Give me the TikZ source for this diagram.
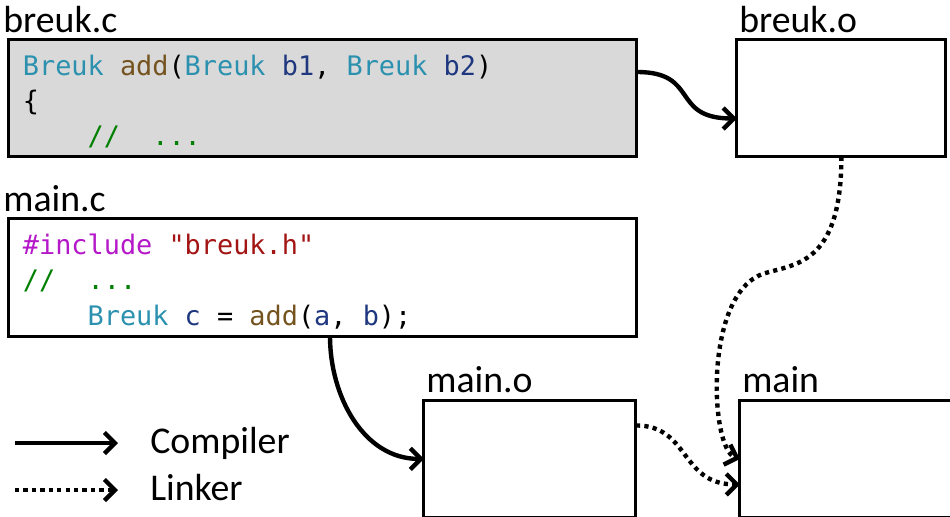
\documentclass[tikz,border=0pt]{standalone}
\usepackage{fontspec}
\setmainfont{Carlito}
\newfontfamily\codefont{DejaVu Sans Mono}
\usetikzlibrary{positioning,arrows.meta}

\definecolor{typecol}{HTML}{2B91AF}
\definecolor{funccol}{HTML}{74531F}
\definecolor{varcol}{HTML}{1F377F}
\definecolor{commentcol}{HTML}{008000}
\definecolor{preprocol}{HTML}{B418C8}
\definecolor{strcol}{HTML}{A31515}
\definecolor{srcgray}{HTML}{D9D9D9}

\tikzset{
	filebox/.style={draw, line width=1.7pt, outer sep=0pt, inner sep=0pt, minimum height=2.35cm},
	codetext/.style={font=\codefont\fontsize{15.3}{20.1}\selectfont, align=left, inner sep=0pt},
	filename/.style={font=\fontsize{21.5}{25}\selectfont, inner sep=0pt, anchor=base west},
	compiler/.style={line width=2.5pt, -{Straight Barb[length=6pt,width=12pt]}},
	linker/.style={compiler, dash pattern=on 2.4pt off 2.4pt},
}

\begin{document}
\begin{tikzpicture}[x=0.02cm, y=-0.02cm]
			\useasboundingbox (0,0) rectangle (950,517);
			
			% source files and object files
			\node[filebox, fill=srcgray, minimum width=12.58cm] (breukc) at (322.5,98) {};
			\node[filebox, minimum width=4.18cm, right=2cm of breukc] (breuko) {};
			\node[filebox, minimum width=12.58cm, below=1.24cm of breukc] (mainc) {};
			\node[filebox, minimum width=4.24cm, below right=1.28cm and 8.32cm of mainc.south west] (maino) {};
			\node[filebox, minimum width=4.26cm, right=2.08cm of maino] (main) {};
			
			\node[above right=0.14cm and -0.1cm of breukc.north west, filename] (lbreukc) {breuk.c};
			\node[above right=0.14cm and 0.04cm of breuko.north west, filename] (lbreuko) {breuk.o};
			\node[above right=0.14cm and -0.1cm of mainc.north west, filename] (lmainc) {main.c};
			\node[above right=0.16cm and 0.04cm of maino.north west, filename] (lmaino) {main.o};
			\node[above right=0.16cm and 0.04cm of main.north west, filename] (lmain) {main};
			
			\node[codetext, below right=0.3cm and 0.29cm of breukc.north west] (breukcode) {%
				\textcolor{typecol}{Breuk} \textcolor{funccol}{add}(\textcolor{typecol}{Breuk} \textcolor{varcol}{b1}, \textcolor{typecol}{Breuk} \textcolor{varcol}{b2})\\
				\{\\
				\phantom{0000}\textcolor{commentcol}{//\phantom{00}...}};
			\node[codetext, below right=0.3cm and 0.29cm of mainc.north west] (maincode) {%
				\textcolor{preprocol}{\#include} \textcolor{strcol}{"breuk.h"}\\
				\textcolor{commentcol}{//\phantom{00}...}\\
				\phantom{0000}\textcolor{typecol}{Breuk} \textcolor{varcol}{c} = \textcolor{funccol}{add}(\textcolor{varcol}{a}, \textcolor{varcol}{b});};
			
			% compiling
			\draw[compiler] ([yshift=0.52cm]breukc.east) .. controls +(63,0) and +(-67,0) .. ([yshift=-0.41cm]breuko.west);
			\draw[compiler] ([xshift=0.15cm]mainc.south) to[out=-90, in=180] (maino.west);
			
			% linking
			\draw[linker] (breuko.south) .. controls +(0,110) and +(30,-10) .. ++(-78,117)
				.. controls +(-60,20) and +(-30,-10) .. (main.west);
			\draw[linker] ([yshift=0.67cm]maino.east) .. controls +(54,0) and +(-60,0) .. ([yshift=-0.51cm]main.west);
			
			% legend
			\coordinate (cmpA) at (15,443);
			\coordinate (cmpB) at (118,443);
			\coordinate (lnkA) at (15,490);
			\coordinate (lnkB) at (118,490);
			\draw[compiler] (cmpA) -- (cmpB);
			\draw[linker] (lnkA) -- (lnkB);
			\node[filename] (cmptxt) at (150,453) {Compiler};
			\node[filename] (lnktxt) at (150,500) {Linker};
\end{tikzpicture}
\end{document}
